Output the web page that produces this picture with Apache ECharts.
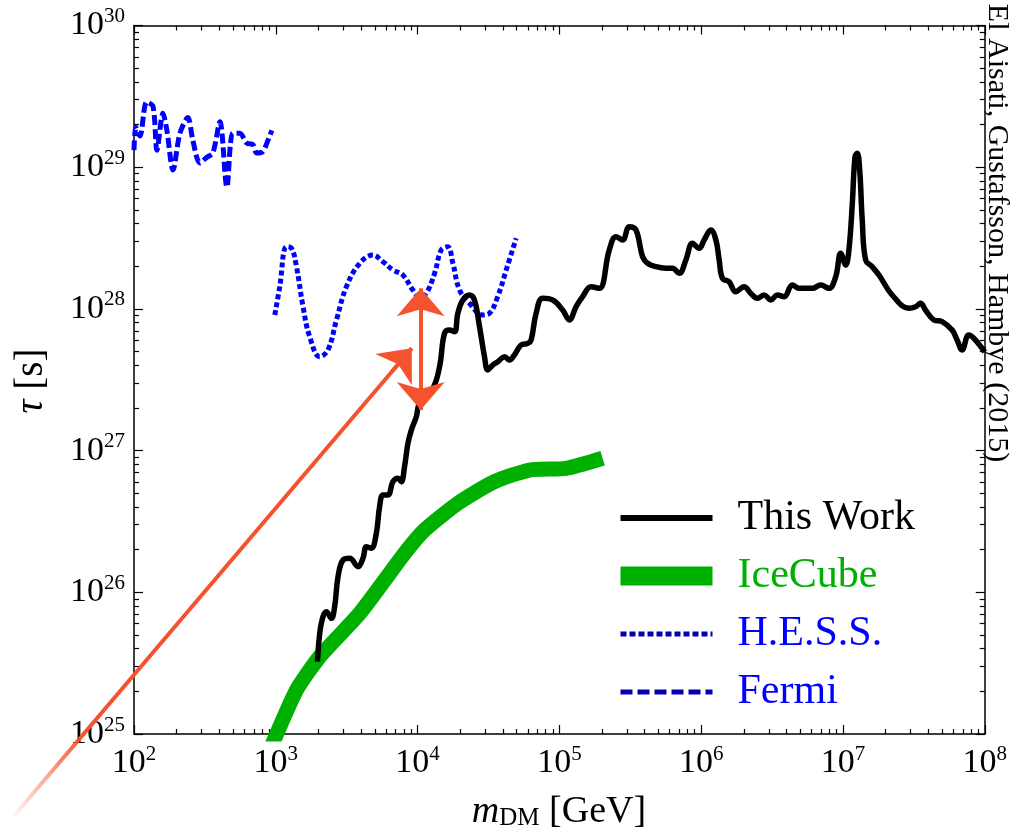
<!DOCTYPE html>
<html>
<head>
<meta charset="utf-8">
<script src="https://cdn.jsdelivr.net/npm/echarts@6.0.0/dist/echarts.min.js"></script>
<style>
html, body { margin: 0; padding: 0; background: #fff; }
#chart { width: 1010px; height: 838px; }
</style>
</head>
<body>
<div id="chart"></div>
<script>
// all values are log10: mass in GeV, lifetime in s
var xTickExps = [2, 3, 4, 5, 6, 7, 8];
var yTickExps = [25, 26, 27, 28, 29, 30];

var thisWorkLogM = [3.294,3.310,3.333,3.357,3.392,3.415,3.439,3.474,3.521,3.580,
	3.615,3.639,3.674,3.709,3.732,3.756,3.791,3.826,3.861,3.885,
	3.908,3.932,3.956,3.991,4.014,4.108,4.155,4.190,4.225,4.261,
	4.284,4.319,4.366,4.401,4.437,4.472,4.495,4.530,4.566,4.613,
	4.648,4.683,4.730,4.777,4.801,4.836,4.882,4.953,5.023,5.070,
	5.118,5.164,5.223,5.282,5.352,5.399,5.446,5.493,5.540,5.587,
	5.622,5.681,5.751,5.798,5.845,5.892,5.939,5.986,6.021,6.068,
	6.104,6.127,6.150,6.197,6.244,6.303,6.350,6.397,6.444,6.491,
	6.537,6.585,6.643,6.690,6.784,6.843,6.901,6.949,6.984,7.019,
	7.042,7.066,7.085,7.101,7.118,7.136,7.160,7.206,7.254,7.347,
	7.465,7.512,7.547,7.582,7.641,7.699,7.770,7.805,7.840,7.887,
	7.923,7.981,8.0];
var thisWorkLogTau = [25.510,25.711,25.828,25.863,25.816,25.898,26.110,26.228,26.240,26.181,
	26.240,26.322,26.311,26.416,26.604,26.687,26.687,26.781,26.805,26.781,
	26.886,27.052,27.145,27.239,27.334,27.440,27.592,27.828,27.851,27.839,
	27.969,28.063,28.098,28.063,27.874,27.663,27.569,27.604,27.627,27.663,
	27.639,27.675,27.745,27.757,27.781,27.969,28.075,28.063,27.992,27.922,
	28.016,28.086,28.157,28.145,28.416,28.510,28.486,28.580,28.557,28.368,
	28.322,28.298,28.287,28.287,28.251,28.345,28.463,28.428,28.486,28.557,
	28.486,28.345,28.216,28.192,28.121,28.157,28.110,28.075,28.098,28.063,
	28.098,28.086,28.169,28.145,28.145,28.169,28.145,28.227,28.392,28.310,
	28.416,28.745,29.074,29.098,28.980,28.627,28.345,28.298,28.239,28.098,
	28.004,28.015,28.040,27.992,27.922,27.910,27.851,27.781,27.710,27.816,
	27.793,27.722,27.696];

var iceCubeLogM = [2.958,3.146,3.310,3.592,3.908,4.049,4.284,4.542,4.789,5.047,5.305];
var iceCubeLogTau = [24.887,25.310,25.546,25.852,26.275,26.440,26.628,26.781,26.863,26.875,26.946];

var hessLogM = [2.993,3.028,3.075,3.111,3.146,3.192,3.239,3.310,3.368,3.428,
	3.498,3.592,3.685,3.756,3.826,3.896,3.967,4.014,4.061,4.120,
	4.167,4.213,4.249,4.296,4.366,4.460,4.507,4.565,4.625,4.695];
var hessLogTau = [27.957,28.157,28.439,28.428,28.298,28.016,27.804,27.663,27.710,27.922,
	28.157,28.322,28.380,28.333,28.275,28.239,28.133,28.086,28.110,28.251,
	28.416,28.439,28.322,28.133,28.040,27.957,27.969,28.086,28.275,28.498];

var fermiLogM = [2.0,2.014,2.042,2.089,2.134,2.162,2.204,2.232,2.275,2.324,
	2.380,2.415,2.465,2.514,2.556,2.606,2.655,2.697,2.746,2.796,
	2.838,2.866,2.908,2.937,2.972];
var fermiLogTau = [29.12,29.28,29.22,29.46,29.43,29.12,29.38,29.26,28.98,29.24,
	29.35,29.19,29.03,29.07,29.10,29.32,28.86,29.24,29.24,29.17,
	29.16,29.10,29.11,29.17,29.26];

// annotation arrows (the diagonal one starts outside the frame)
var diagArrowLogM = [1.148, 3.956];
var diagArrowLogTau = [24.414, 27.722];
var vertArrowLogM = [4.019, 4.019];
var vertArrowLogTau = [27.286, 28.145];

var orange = '#F4532D';
var blue = '#0000FF';
var green = '#00B000';
var font = 'Liberation Serif';

// plot frame in pixels, used to lay an overlay grid over the whole page
var frame = {left: 134, right: 986, top: 25.5, bottom: 734, w: 1010, h: 838};

function pts(lm, lt){
	var out = [];
	for(var i=0; i<lm.length; i++){
		out.push([Math.pow(10, lm[i]), Math.pow(10, lt[i])]);
	}
	return out;
}

function pow10(arr){
	return arr.map(function(e){ return Math.pow(10, e); });
}

function minorVals(exps){
	var out = [];
	for(var i=0; i<exps.length-1; i++){
		for(var k=2; k<10; k++) out.push(k*Math.pow(10, exps[i]));
	}
	return out;
}

var supRich = {
	b: {fontFamily: font, fontSize: 34, lineHeight: 34, color: '#000'},
	s: {fontFamily: font, fontSize: 21, lineHeight: 21, padding: [0, 0, 18, 0], color: '#000'}
};

function makeAxis(pos, exps, ticks, len, main, labels, margin){
	return {
		type: 'log',
		logBase: 10,
		min: Math.pow(10, exps[0]) * 0.99999,
		max: Math.pow(10, exps[exps.length-1]) * 1.00001,
		position: pos,
		axisLine: {show: main, onZero: false, lineStyle: {color: '#000', width: 1.5}},
		axisTick: {show: true, inside: true, length: len, customValues: ticks, lineStyle: {color: '#000', width: 1.2}},
		axisLabel: labels ? {
			show: true,
			margin: margin,
			customValues: pow10(exps),
			formatter: function(v){ return '{b|10}{s|' + Math.round(Math.log10(v)) + '}'; },
			rich: supRich
		} : {show: false},
		splitLine: {show: false},
		minorTick: {show: false}
	};
}

// hidden log axes spanning the full page at the same scale as the frame
var pxPerDecX = (frame.right - frame.left) / (xTickExps[xTickExps.length-1] - xTickExps[0]);
var pxPerDecY = (frame.bottom - frame.top) / (yTickExps[yTickExps.length-1] - yTickExps[0]);
var overlayX = {
	type: 'log', gridIndex: 1, show: false,
	min: Math.pow(10, xTickExps[0] - frame.left / pxPerDecX),
	max: Math.pow(10, xTickExps[0] + (frame.w - frame.left) / pxPerDecX)
};
var overlayY = {
	type: 'log', gridIndex: 1, show: false,
	min: Math.pow(10, yTickExps[yTickExps.length-1] - (frame.h - frame.top) / pxPerDecY),
	max: Math.pow(10, yTickExps[yTickExps.length-1] + frame.top / pxPerDecY)
};

var diagPts = pts(diagArrowLogM, diagArrowLogTau);
// a point just behind the tip so the head sits on the shaft
var headBase = [
	Math.pow(10, diagArrowLogM[0] + 0.95 * (diagArrowLogM[1] - diagArrowLogM[0])),
	Math.pow(10, diagArrowLogTau[0] + 0.95 * (diagArrowLogTau[1] - diagArrowLogTau[0]))
];
var vertPts = pts(vertArrowLogM, vertArrowLogTau);

var chart = echarts.init(document.getElementById('chart'));

var option = {
	animation: false,
	backgroundColor: '#fff',
	grid: [
		{left: frame.left, right: frame.w - frame.right, top: frame.top, bottom: frame.h - frame.bottom, containLabel: false},
		{left: 0, right: 0, top: 0, bottom: 0, containLabel: false}
	],
	xAxis: [
		makeAxis('bottom', xTickExps, pow10(xTickExps), 9, true, true, 12),
		makeAxis('bottom', xTickExps, minorVals(xTickExps), 5, false, false),
		makeAxis('top', xTickExps, pow10(xTickExps), 9, true, false),
		makeAxis('top', xTickExps, minorVals(xTickExps), 5, false, false),
		overlayX
	],
	yAxis: [
		makeAxis('left', yTickExps, pow10(yTickExps), 9, true, true, 9),
		makeAxis('left', yTickExps, minorVals(yTickExps), 5, false, false),
		makeAxis('right', yTickExps, pow10(yTickExps), 9, true, false),
		makeAxis('right', yTickExps, minorVals(yTickExps), 5, false, false),
		overlayY
	],
	legend: {
		orient: 'vertical',
		left: 606,
		top: 492,
		itemWidth: 92,
		itemHeight: 20,
		itemGap: 16,
		selectedMode: false,
		itemStyle: {color: 'rgba(0,0,0,0)', borderWidth: 0},
		textStyle: {fontFamily: font, fontSize: 42, lineHeight: 42, padding: [0, 0, 0, 20]},
		data: [
			{name: 'This Work', textStyle: {color: '#000'}, lineStyle: {width: 6}},
			{name: 'IceCube', textStyle: {color: green}, lineStyle: {width: 19}},
			{name: 'H.E.S.S.', textStyle: {color: blue}, lineStyle: {width: 5, type: [6, 3], color: '#0000B0'}},
			{name: 'Fermi', textStyle: {color: blue}, lineStyle: {width: 5, type: [12, 5], color: '#0000B0'}}
		]
	},
	series: [
		{
			name: 'Fermi', type: 'line', data: pts(fermiLogM, fermiLogTau),
			showSymbol: false, symbol: 'none', smooth: 0.3,
			lineStyle: {color: blue, width: 5, type: [10, 4]}
		},
		{
			name: 'H.E.S.S.', type: 'line', data: pts(hessLogM, hessLogTau),
			showSymbol: false, symbol: 'none', smooth: 0.4,
			lineStyle: {color: blue, width: 5, type: [5, 3]}
		},
		{
			name: 'IceCube', type: 'line', data: pts(iceCubeLogM, iceCubeLogTau),
			showSymbol: false, symbol: 'none', smooth: 0.2,
			itemStyle: {color: green},
			lineStyle: {color: green, width: 15, cap: 'butt', join: 'round'}
		},
		{
			name: 'This Work', type: 'line', data: pts(thisWorkLogM, thisWorkLogTau),
			showSymbol: false, symbol: 'none', smooth: 0.4,
			itemStyle: {color: '#000'},
			lineStyle: {color: '#000', width: 5.5, cap: 'butt', join: 'round'}
		},
		{
			name: 'arrows', type: 'line', xAxisIndex: 4, yAxisIndex: 4,
			data: diagPts,
			showSymbol: false, symbol: 'none', silent: true,
			lineStyle: {
				width: 4,
				color: new echarts.graphic.LinearGradient(0, 1, 1, 0, [
					{offset: 0, color: 'rgba(244,83,45,0)'},
					{offset: 0.18, color: orange},
					{offset: 1, color: orange}
				])
			},
			markLine: {
				silent: true,
				animation: false,
				label: {show: false},
				symbolSize: [36, 28],
				lineStyle: {color: orange, width: 4, type: 'solid'},
				data: [
					[
						{coord: headBase, symbol: 'none'},
						{coord: diagPts[1], symbol: 'arrow'}
					],
					[
						{coord: vertPts[0], symbol: 'arrow'},
						{coord: vertPts[1], symbol: 'arrow'}
					]
				]
			}
		}
	],
	graphic: [
		{
			type: 'text', x: 32, y: 381, rotation: Math.PI/2,
			style: {
				text: '{i|τ} [s]', align: 'center', verticalAlign: 'middle',
				fontFamily: font, fontSize: 39, fill: '#000',
				rich: {i: {fontFamily: font, fontSize: 39, fontStyle: 'italic', fill: '#000'}}
			}
		},
		{
			type: 'text', x: 559, y: 812,
			style: {
				text: '{i|m}{d|DM}{t| [GeV]}', align: 'center', verticalAlign: 'middle',
				fontFamily: font, fontSize: 38, fill: '#000',
				rich: {
					i: {fontFamily: font, fontSize: 38, lineHeight: 38, fontStyle: 'italic', fill: '#000'},
					d: {fontFamily: font, fontSize: 25, lineHeight: 12, verticalAlign: 'bottom', fill: '#000'},
					t: {fontFamily: font, fontSize: 38, lineHeight: 38, fill: '#000'}
				}
			}
		},
		{
			type: 'text', x: 997, y: 233, rotation: -Math.PI/2,
			style: {
				text: 'El Aisati, Gustafsson, Hambye (2015)', align: 'center', verticalAlign: 'middle',
				fontFamily: font, fontSize: 30, fill: '#000'
			}
		}
	]
};

chart.setOption(option);
</script>
</body>
</html>
